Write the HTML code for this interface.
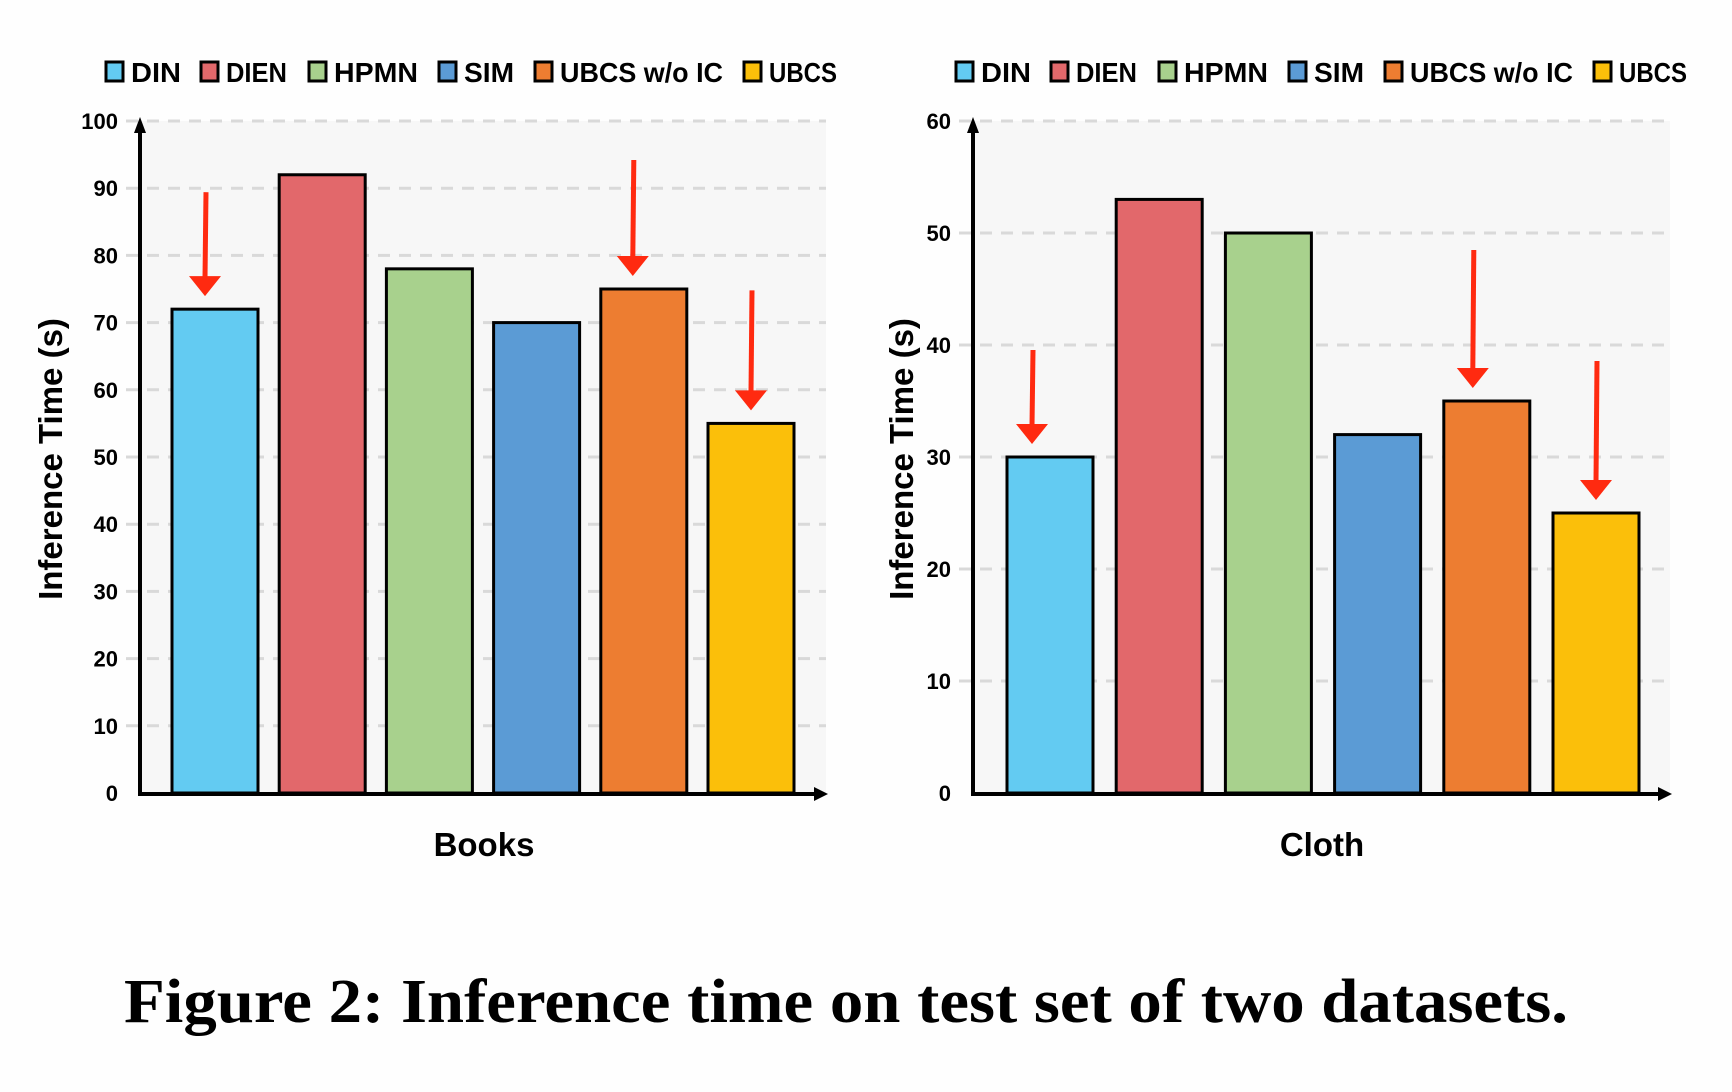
<!DOCTYPE html>
<html><head><meta charset="utf-8"><style>
html,body{margin:0;padding:0;background:#fefefe}
svg{display:block}
text{font-family:"Liberation Sans Narrow","Liberation Sans",sans-serif;font-weight:bold;fill:#000}
</style></head><body>
<svg id="fig" width="1732" height="1092" viewBox="0 0 1732 1092" xmlns="http://www.w3.org/2000/svg">
<g id="left"></g>
<g id="right"></g>
<text x="124" y="1022" textLength="1444" lengthAdjust="spacingAndGlyphs" style="font-family:'Liberation Serif',serif;font-size:62px">Figure 2: Inference time on test set of two datasets.</text>
</svg>
<script>
const categories = ["DIN","DIEN","HPMN","SIM","UBCS w/o IC","UBCS"];
const booksValues = [72,92,78,70,75,55];
const clothValues = [30,53,50,32,35,25];
const booksTicks = [0,10,20,30,40,50,60,70,80,90,100];
const clothTicks = [0,10,20,30,40,50,60];
const arrowIdx = [0,4,5];
const colors = ["#63cbf2","#e2686b","#a8d18d","#5b9bd5","#ed7d31","#fbbf0a"];
const NS="http://www.w3.org/2000/svg";
function mk(p,tag,at){const e=document.createElementNS(NS,tag);for(const k in at)e.setAttribute(k,at[k]);p.appendChild(e);return e;}

function chart(g,cfg){
  const y0=793,y1=121,ax=cfg.ax,axEnd=cfg.axEnd;
  const maxV=cfg.ticks[cfg.ticks.length-1];
  const ys=v=>y0-(v/maxV)*(y0-y1);
  const bg=mk(g,'rect',{x:ax,y:y1,width:axEnd-ax,height:y0-y1,fill:'#f7f7f7'});
  
  
  cfg.ticks.forEach(t=>{
    if(t>0){const l=mk(g,'line',{x1:ax-14,x2:axEnd,y1:ys(t),y2:ys(t),stroke:'#d9d9d9','stroke-width':3,'stroke-dasharray':'12 9'});
    
    }
    const tx=mk(g,'text',{x:ax-22,y:ys(t)+8,'text-anchor':'end','font-size':22});
    tx.textContent=t;
    
    
  });
  const pitch=cfg.pitch,bw=86;
  cfg.values.forEach((v,i)=>{
    const x=cfg.first+i*pitch;
    const r=mk(g,'rect',{x:x,y:ys(v),width:bw,height:y0-ys(v),fill:colors[i],stroke:'#000','stroke-width':3});
    
    
  });
  arrowIdx.forEach((i,k)=>{
    const cx=cfg.first+i*pitch+bw/2+cfg.adx[k], tip=ys(cfg.values[i])-13, top=tip-cfg.alen[k];
    const a=mk(g,'g',{});
    
    
    mk(a,'line',{x1:cx+1,x2:cx,y1:top,y2:tip-18,stroke:'#ff2a10','stroke-width':5});
    mk(a,'polygon',{points:`${cx-16},${tip-20} ${cx+16},${tip-20} ${cx},${tip}`,fill:'#ff2a10'});
  });
  const xa=mk(g,'path',{d:`M${ax},${y0+1} L${axEnd-6},${y0+1}`,stroke:'#000','stroke-width':4,fill:'none'});
  
  
  mk(g,'polygon',{points:`${axEnd-12},${y0-6} ${axEnd+2},${y0+1} ${axEnd-12},${y0+8}`,fill:'#000'});
  const ya=mk(g,'path',{d:`M${ax},${y0+3} L${ax},${y1+6}`,stroke:'#000','stroke-width':4,fill:'none'});
  
  
  mk(g,'polygon',{points:`${ax-6},${y1+12} ${ax},${y1-4} ${ax+6},${y1+12}`,fill:'#000'});
  const yt=mk(g,'text',{x:0,y:0,'text-anchor':'middle','font-size':33,transform:`translate(${cfg.titleX},459) rotate(-90)`,style:"font-family:'Liberation Sans',sans-serif"});
  yt.textContent='Inference Time (s)';
  
  
  const xt=mk(g,'text',{x:cfg.xlabelX,y:856,'text-anchor':'middle','font-size':33});
  xt.textContent=cfg.xlabel;
  
  
  const lx=cfg.legendX, offs=[0,95,203,333,429,638], tw=[50,61,84,50,163,68];
  categories.forEach((c,i)=>{
    const le=mk(g,'g',{});
    
    
    mk(le,'rect',{x:lx+offs[i],y:62,width:17,height:19,fill:colors[i],stroke:'#000','stroke-width':3});
    const t=mk(le,'text',{x:lx+offs[i]+25,y:82,'font-size':28,textLength:tw[i],lengthAdjust:'spacingAndGlyphs'});
    t.textContent=c;
  });
}
chart(document.getElementById('left'),{values:booksValues,ticks:booksTicks,ax:140,axEnd:826,first:172,pitch:107.2,alen:[104,116,120],adx:[-10,-11,0],titleX:62,xlabel:'Books',xlabelX:484,legendX:106});
chart(document.getElementById('right'),{values:clothValues,ticks:clothTicks,ax:973,axEnd:1670,first:1007,pitch:109.2,alen:[94,138,139],adx:[-18,-14,0],titleX:913,xlabel:'Cloth',xlabelX:1322,legendX:956});
</script>
</body></html>
